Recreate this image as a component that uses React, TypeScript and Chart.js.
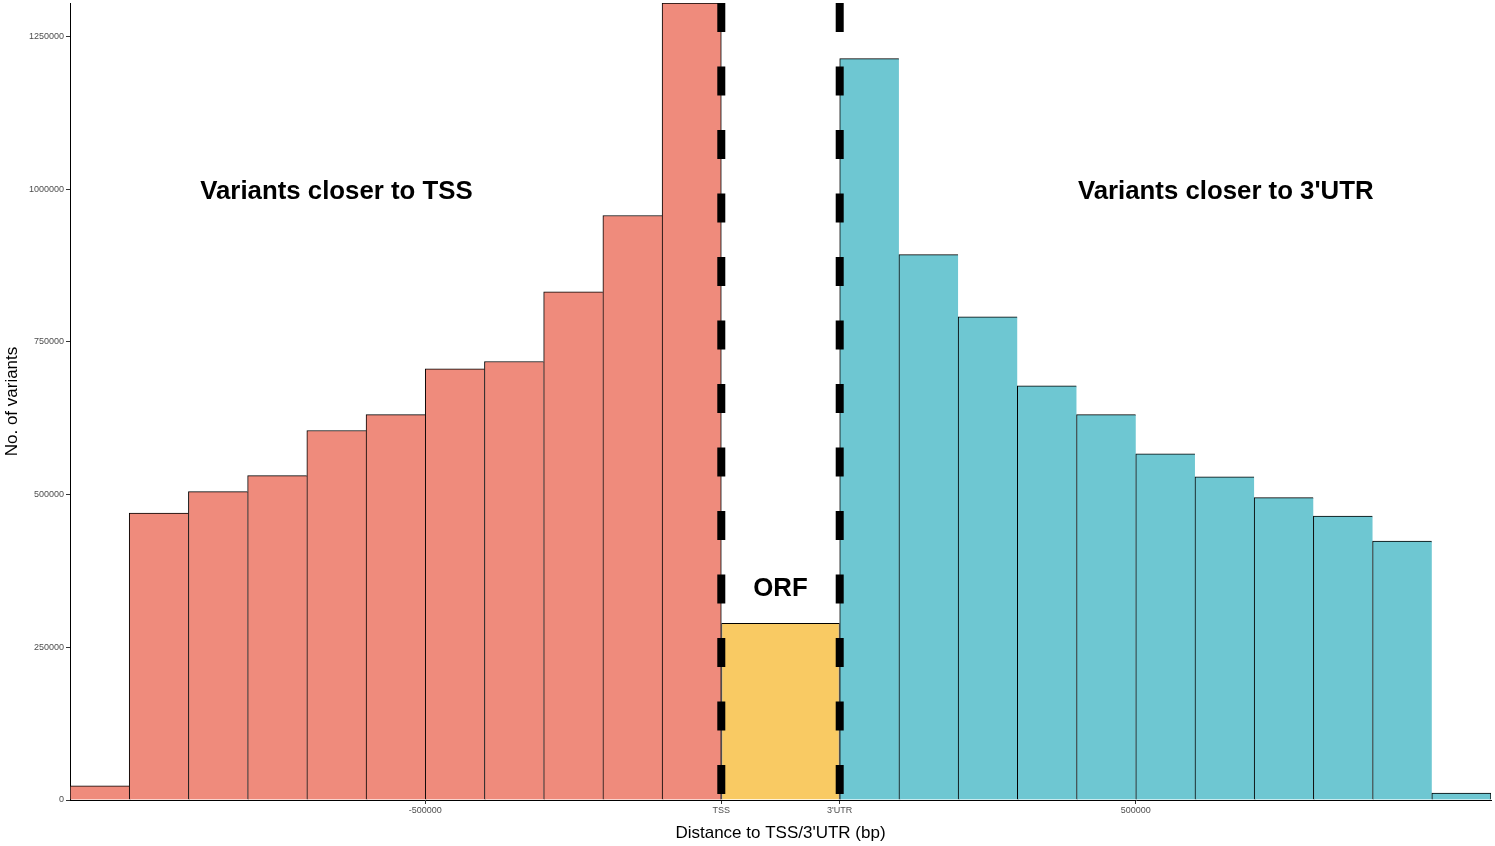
import { useEffect, useRef } from "react";
import { Chart, registerables, Plugin } from "chart.js";

Chart.register(...registerables);

// bin centres on the plot axis (TSS = 0, 3'UTR = 200000, ORF squeezed in between)
const tssBins = [-1050000, -950000, -850000, -750000, -650000, -550000, -450000, -350000, -250000, -150000, -50000];
const tssCounts = [23000, 470000, 505000, 531000, 605000, 631000, 706000, 718000, 832000, 957000, 1305000];

const orfBins = [100000];
const orfCounts = [290000];

const utrBins = [250000, 350000, 450000, 550000, 650000, 750000, 850000, 950000, 1050000, 1150000, 1250000];
const utrCounts = [1214000, 893000, 791000, 678000, 631000, 567000, 529000, 495000, 465000, 424000, 11500];

const xTickValues = [-500000, 0, 200000, 700000];
const xTickLabels = ["-500000", "TSS", "3'UTR", "500000"];
const yTickValues = [0, 250000, 500000, 750000, 1000000, 1250000];

const boundaries = [0, 200000];

const regionLabels = [
  { text: "Variants closer to TSS", x: -650000, y: 995000 },
  { text: "ORF", x: 100000, y: 345000 },
  { text: "Variants closer to 3'UTR", x: 852000, y: 995000 },
];

const FONT = "'Liberation Sans', Arial, sans-serif";

const overlay: Plugin = {
  id: "overlay",
  afterDatasetsDraw(chart) {
    const { ctx, chartArea, scales } = chart;
    const x = scales.x;
    const y = scales.y;
    ctx.save();
    ctx.strokeStyle = "#000";
    ctx.lineWidth = 8;
    ctx.setLineDash([29, 34.5]);
    boundaries.forEach((b) => {
      const px = x.getPixelForValue(b);
      ctx.beginPath();
      ctx.moveTo(px, chartArea.top);
      ctx.lineTo(px, chartArea.bottom);
      ctx.stroke();
    });
    ctx.setLineDash([]);
    ctx.fillStyle = "#000";
    ctx.font = `bold 25.8px ${FONT}`;
    ctx.textAlign = "center";
    ctx.textBaseline = "middle";
    regionLabels.forEach((l) => {
      ctx.fillText(l.text, x.getPixelForValue(l.x), y.getPixelForValue(l.y));
    });
    ctx.restore();
  },
};

// one outline per bin, right edge only on the last bar so neighbours share a line
const edges = (lastIndex: number) => (c: any) => ({
  top: 1,
  left: 1,
  right: c.dataIndex === lastIndex ? 1 : 0,
  bottom: 0,
});

export default function App() {
  const canvasRef = useRef<HTMLCanvasElement>(null);

  useEffect(() => {
    document.body.style.margin = "0";
    const ctx = canvasRef.current?.getContext("2d");
    if (!ctx) return;
    const chart = new Chart(ctx, {
      type: "bar",
      data: {
        datasets: [
          {
            data: tssBins.map((b, i) => ({ x: b, y: tssCounts[i] })),
            backgroundColor: "#EF8B7C",
            borderColor: "#000",
            borderWidth: edges(tssCounts.length - 1),
          },
          {
            // the ORF spans two bin widths
            data: orfBins.map((b, i) => ({ x: b, y: orfCounts[i] })),
            backgroundColor: "#F9CA63",
            borderColor: "#000",
            borderWidth: edges(orfCounts.length - 1),
            barPercentage: 2,
          },
          {
            data: utrBins.map((b, i) => ({ x: b, y: utrCounts[i] })),
            backgroundColor: "#6EC7D2",
            borderColor: "#000",
            borderWidth: edges(utrCounts.length - 1),
          },
        ],
      },
      options: {
        animation: false,
        responsive: true,
        maintainAspectRatio: false,
        layout: { padding: { top: 3, right: 4, left: 0, bottom: 0 } },
        datasets: {
          bar: { barPercentage: 1, categoryPercentage: 1, grouped: false },
        },
        plugins: {
          legend: { display: false },
          tooltip: { enabled: false },
        },
        scales: {
          x: {
            type: "linear",
            min: -1100000,
            max: 1300000,
            offset: false,
            border: { display: true, color: "#000", width: 1 },
            grid: { offset: false, drawOnChartArea: false, drawTicks: true, tickLength: 4, color: "#333" },
            afterBuildTicks: (scale: any) => {
              scale.ticks = xTickValues.map((v) => ({ value: v }));
            },
            afterFit: (scale: any) => {
              scale.height = 46;
              scale.paddingLeft = 0;
              scale.paddingRight = 0;
            },
            ticks: {
              autoSkip: false,
              maxRotation: 0,
              padding: 1,
              color: "#4D4D4D",
              font: { family: FONT, size: 9 },
              callback: (v: any) => xTickLabels[xTickValues.indexOf(Number(v))],
            },
            title: {
              display: true,
              text: "Distance to TSS/3'UTR (bp)",
              color: "#000",
              font: { family: FONT, size: 17 },
              padding: { top: 0, bottom: 2 },
            },
          },
          y: {
            min: 0,
            max: 1305000,
            border: { display: true, color: "#000", width: 1 },
            grid: { drawOnChartArea: false, drawTicks: true, tickLength: 4, color: "#333" },
            afterBuildTicks: (scale: any) => {
              scale.ticks = yTickValues.map((v) => ({ value: v }));
            },
            afterFit: (scale: any) => {
              scale.width = 70;
              scale.paddingTop = 0;
              scale.paddingBottom = 0;
            },
            ticks: {
              padding: 2,
              color: "#4D4D4D",
              font: { family: FONT, size: 9 },
              callback: (v: any) => String(v),
            },
            title: {
              display: true,
              text: "No. of variants",
              color: "#000",
              font: { family: FONT, size: 17 },
              padding: { top: 2, bottom: 0 },
            },
          },
        },
      },
      plugins: [overlay],
    });
    return () => {
      chart.destroy();
    };
  }, []);

  return (
    <div style={{ width: 1495, height: 846, position: "relative" }}>
      <canvas ref={canvasRef} />
    </div>
  );
}
